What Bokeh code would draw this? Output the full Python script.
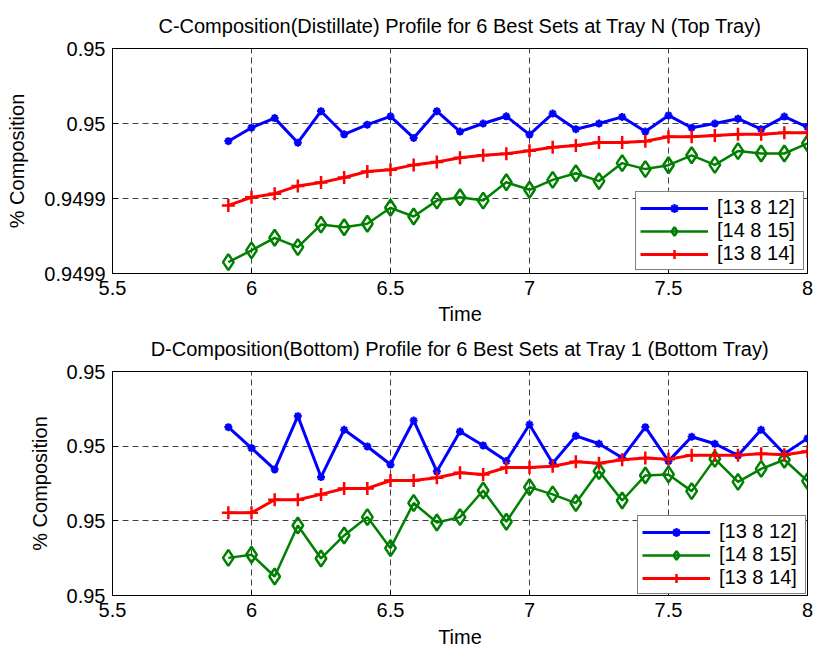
from bokeh.plotting import figure
from bokeh.layouts import column
from bokeh.models import Range1d, FixedTicker, Legend, LegendItem
from bokeh.embed import file_html
from bokeh.resources import INLINE

# ---------------- data ----------------
time = [5.9167, 6.0, 6.0833, 6.1667, 6.25, 6.3333, 6.4167, 6.5, 6.5833,
        6.6667, 6.75, 6.8333, 6.9167, 7.0, 7.0833, 7.1667, 7.25, 7.3333,
        7.4167, 7.5, 7.5833, 7.6667, 7.75, 7.8333, 7.9167, 8.0]

series_labels = ["[13 8 12]", "[14 8 15]", "[13 8 14]"]

# Top tray (distillate) composition
top_13_8_12 = [0.9499441, 0.9499486, 0.9499518, 0.9499436, 0.9499541, 0.9499464,
               0.9499496, 0.9499524, 0.9499452, 0.9499541, 0.9499473, 0.9499500,
               0.9499524, 0.9499463, 0.9499533, 0.9499481, 0.9499500, 0.9499522,
               0.9499473, 0.9499527, 0.9499486, 0.9499500, 0.9499516, 0.9499481,
               0.9499523, 0.9499488]
top_14_8_15 = [0.9499038, 0.9499077, 0.9499119, 0.9499088, 0.9499163, 0.9499154,
               0.9499166, 0.9499219, 0.9499190, 0.9499243, 0.9499254, 0.9499243,
               0.9499304, 0.9499279, 0.9499312, 0.9499334, 0.9499308, 0.9499368,
               0.9499348, 0.9499361, 0.9499394, 0.9499362, 0.9499408, 0.9499400,
               0.9499400, 0.9499434]
top_13_8_14 = [0.9499227, 0.9499254, 0.9499266, 0.9499292, 0.9499303, 0.9499320,
               0.9499340, 0.9499346, 0.9499362, 0.9499372, 0.9499386, 0.9499394,
               0.9499399, 0.9499409, 0.9499421, 0.9499427, 0.9499437, 0.9499437,
               0.9499441, 0.9499456, 0.9499456, 0.9499460, 0.9499464, 0.9499464,
               0.9499469, 0.9499469]

# Bottom tray composition
bot_13_8_12 = [0.9501127, 0.9500987, 0.9500844, 0.9501201, 0.9500793, 0.9501110,
               0.9500998, 0.9500877, 0.9501172, 0.9500831, 0.9501098, 0.9501005,
               0.9500900, 0.9501145, 0.9500886, 0.9501069, 0.9501016, 0.9500922,
               0.9501127, 0.9500900, 0.9501063, 0.9501016, 0.9500938, 0.9501110,
               0.9500949, 0.9501052]
bot_14_8_15 = [0.9500252, 0.9500273, 0.9500127, 0.9500469, 0.9500248, 0.9500402,
               0.9500525, 0.9500317, 0.9500619, 0.9500489, 0.9500525, 0.9500703,
               0.9500494, 0.9500726, 0.9500677, 0.9500619, 0.9500833, 0.9500636,
               0.9500804, 0.9500811, 0.9500699, 0.9500915, 0.9500761, 0.9500848,
               0.9500909, 0.9500766]
bot_13_8_14 = [0.9500554, 0.9500554, 0.9500641, 0.9500641, 0.9500677, 0.9500717,
               0.9500717, 0.9500770, 0.9500770, 0.9500788, 0.9500822, 0.9500811,
               0.9500857, 0.9500857, 0.9500866, 0.9500895, 0.9500886, 0.9500909,
               0.9500920, 0.9500913, 0.9500940, 0.9500940, 0.9500940, 0.9500949,
               0.9500942, 0.9500965]

x_ticks = [5.5, 6, 6.5, 7, 7.5, 8]
x_tick_labels = ["5.5", "6", "6.5", "7", "7.5", "8"]

top_y_ticks = [0.9499, 0.949925, 0.94995, 0.949975]
top_y_tick_labels = ["0.9499", "0.9499", "0.95", "0.95"]
bot_y_ticks = [0.95, 0.95005, 0.9501, 0.95015]
bot_y_tick_labels = ["0.95", "0.95", "0.95", "0.95"]

top_title = "C-Composition(Distillate) Profile for 6 Best Sets at Tray N (Top Tray)"
bot_title = "D-Composition(Bottom) Profile for 6 Best Sets at Tray 1 (Bottom Tray)"

FONT = "Liberation Sans"
COLORS = ["#0000ff", "#008000", "#ff0000"]


def make_plot(title, series, yticks, ylabels, height, border_top, border_bottom,
              title_align, title_standoff, xlabel_standoff, legend_margin):
    p = figure(width=816, height=height, output_backend="svg", toolbar_location=None,
               x_range=Range1d(5.5, 8), y_range=Range1d(yticks[0], yticks[-1]),
               min_border_left=112, min_border_right=9,
               min_border_top=border_top, min_border_bottom=border_bottom)
    p.title.text = title
    p.title.align = "center"
    p.title.vertical_align = title_align
    p.title.text_font = FONT
    p.title.text_font_size = "20px"
    p.title.text_font_style = "normal"
    p.title.text_color = "black"
    p.title.standoff = title_standoff

    p.outline_line_color = "black"
    p.outline_line_width = 1
    p.background_fill_color = "white"
    p.border_fill_color = "white"

    p.xaxis.ticker = FixedTicker(ticks=x_ticks)
    p.xaxis.major_label_overrides = {t: l for t, l in zip(x_ticks, x_tick_labels)}
    p.yaxis.ticker = FixedTicker(ticks=yticks)
    p.yaxis.major_label_overrides = {t: l for t, l in zip(yticks, ylabels)}
    p.xaxis.axis_label = "Time"
    p.yaxis.axis_label = "% Composition"
    for ax in (p.xaxis, p.yaxis):
        ax.axis_label_text_font = FONT
        ax.axis_label_text_font_size = "20px"
        ax.axis_label_text_font_style = "normal"
        ax.axis_label_text_color = "black"
        ax.major_label_text_font = FONT
        ax.major_label_text_font_size = "20px"
        ax.major_label_text_color = "black"
        ax.axis_line_color = "black"
        ax.major_tick_in = 5
        ax.major_tick_out = 0
        ax.minor_tick_line_color = None
        ax.major_tick_line_color = "black"
    p.xaxis.major_label_standoff = 7
    p.xaxis.axis_label_standoff = xlabel_standoff
    p.yaxis.major_label_standoff = 7
    p.yaxis.axis_label_standoff = 13

    for g in (p.xgrid, p.ygrid):
        g.grid_line_color = "black"
        g.grid_line_alpha = 0.75
        g.grid_line_dash = "6 4"
        g.grid_line_width = 1
    p.xgrid.ticker = FixedTicker(ticks=x_ticks)
    p.ygrid.ticker = FixedTicker(ticks=yticks)

    items = []
    ys_blue, ys_green, ys_red = series
    l1 = p.line(time, ys_blue, line_color=COLORS[0], line_width=3)
    m1 = p.scatter(time, ys_blue, marker="asterisk", size=8, line_color=COLORS[0], line_width=2.2)
    items.append(LegendItem(label=series_labels[0], renderers=[l1, m1]))
    l2 = p.line(time, ys_green, line_color=COLORS[1], line_width=2.5)
    m2 = p.scatter(time, ys_green, marker="diamond", size=16, line_color=COLORS[1],
                   fill_color="white", fill_alpha=0, line_width=2.5)
    items.append(LegendItem(label=series_labels[1], renderers=[l2, m2]))
    l3 = p.line(time, ys_red, line_color=COLORS[2], line_width=3)
    m3 = p.scatter(time, ys_red, marker="cross", size=13, line_color=COLORS[2], line_width=2.5)
    items.append(LegendItem(label=series_labels[2], renderers=[l3, m3]))

    legend = Legend(items=items, location="bottom_right")
    legend.border_line_color = "black"
    legend.border_line_width = 1.5
    legend.background_fill_color = "white"
    legend.background_fill_alpha = 1
    legend.label_text_font = FONT
    legend.label_text_font_size = "20px"
    legend.label_text_line_height = 1.0
    legend.label_text_color = "black"
    legend.glyph_width = 68
    legend.glyph_height = 22
    legend.label_height = 22
    legend.label_width = 82
    legend.label_standoff = 9
    legend.spacing = -1
    legend.padding = 4
    legend.margin = legend_margin
    p.add_layout(legend)
    return p


p1 = make_plot(top_title, [top_13_8_12, top_14_8_15, top_13_8_14],
               top_y_ticks, top_y_tick_labels, 327, 48, 54, "middle", 22, 5, 3)
p2 = make_plot(bot_title, [bot_13_8_12, bot_14_8_15, bot_13_8_14],
               bot_y_ticks, bot_y_tick_labels, 323, 44, 55, "top", 19, 6, 1)

layout = column(p1, p2, spacing=0)
open("out.html", "w").write(file_html(layout, INLINE))
